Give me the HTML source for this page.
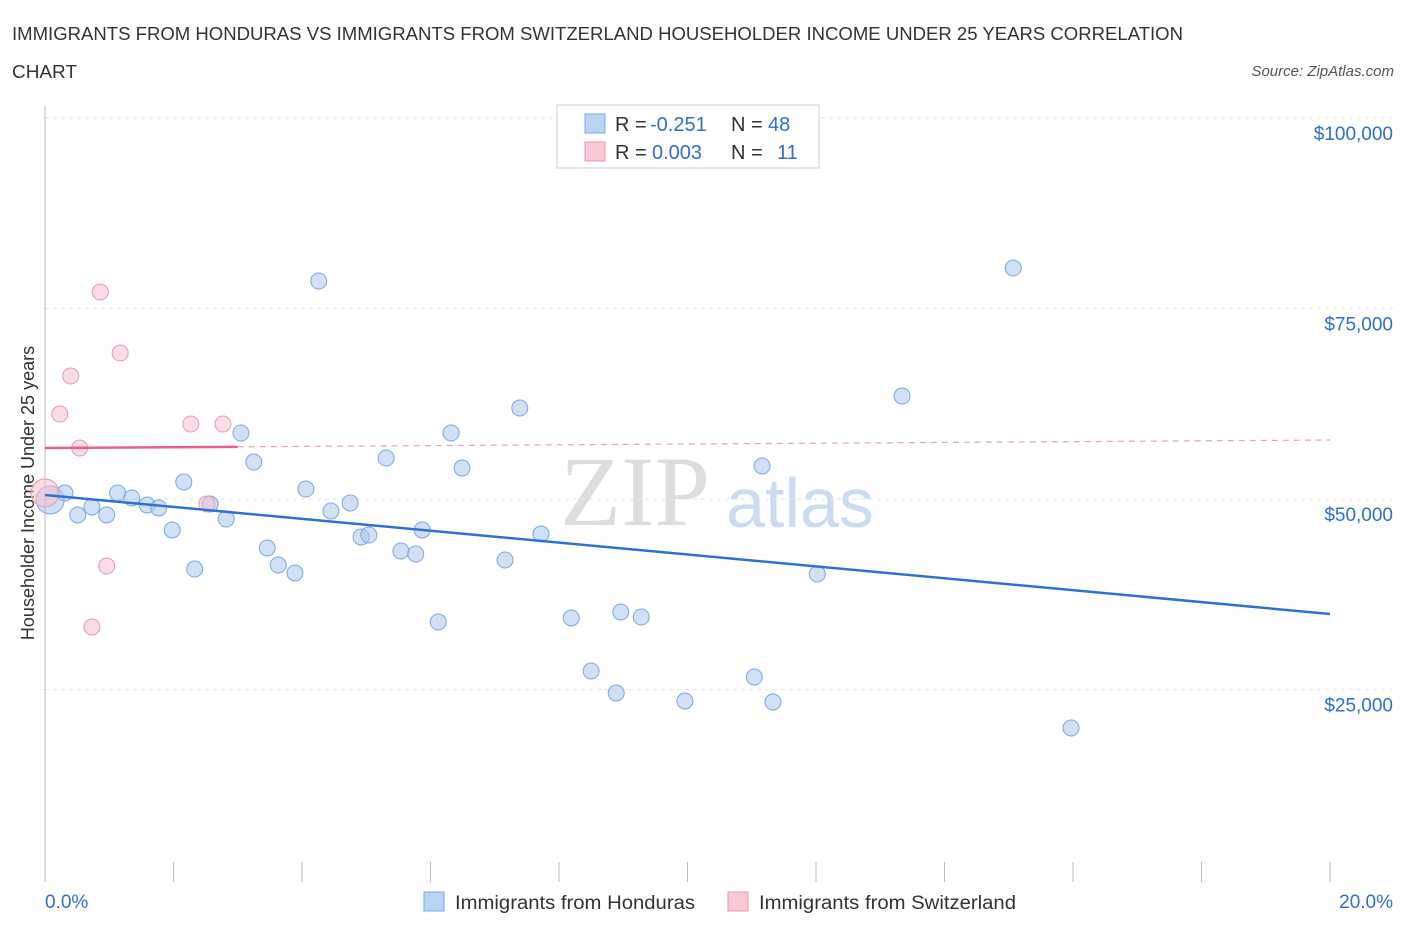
<!DOCTYPE html>
<html><head><meta charset="utf-8"><style>
body{margin:0;background:#fff;font-family:"Liberation Sans",sans-serif}
</style></head><body>
<svg id="c" width="1406" height="930" xmlns="http://www.w3.org/2000/svg">
<text x="12" y="40" font-size="18" fill="#333" textLength="1171" lengthAdjust="spacingAndGlyphs">IMMIGRANTS FROM HONDURAS VS IMMIGRANTS FROM SWITZERLAND HOUSEHOLDER INCOME UNDER 25 YEARS CORRELATION</text>
<text x="12" y="78" font-size="18" fill="#333" textLength="65" lengthAdjust="spacingAndGlyphs">CHART</text>
<text x="1394" y="76" font-size="15" fill="#555" font-style="italic" text-anchor="end">Source: ZipAtlas.com</text>
<text x="635" y="525" font-size="100" fill="#ddd" font-family="Liberation Serif" text-anchor="middle">ZIP</text>
<text x="800" y="527" font-size="70" fill="#c9dcf2" text-anchor="middle">atlas</text>
<text transform="translate(34,493) rotate(-90)" font-size="18" fill="#333" text-anchor="middle">Householder Income Under 25 years</text>
<g id="grid"></g><g id="marks"></g>
<g>
<rect x="557" y="105" width="262" height="63" fill="#fff" stroke="#ccc"/>
<rect x="585" y="114" width="20" height="19" fill="#b8d4f5" stroke="#7aa8e0"/>
<rect x="585" y="142" width="20" height="19" fill="#f9c9d6" stroke="#e898b0"/>
<text x="615" y="131" font-size="20" fill="#333">R =</text>
<text x="650" y="131" font-size="20" fill="#2f6fcf">-0.251</text>
<text x="731" y="131" font-size="20" fill="#333">N =</text>
<text x="768" y="131" font-size="20" fill="#2f6fcf">48</text>
<text x="615" y="159" font-size="20" fill="#333">R =</text>
<text x="652" y="159" font-size="20" fill="#2f6fcf">0.003</text>
<text x="731" y="159" font-size="20" fill="#333">N =</text>
<text x="777" y="159" font-size="20" fill="#2f6fcf">11</text>
</g>
<g>
<rect x="424" y="892" width="20" height="19" fill="#b8d4f5" stroke="#7aa8e0"/>
<text x="455" y="909" font-size="19" fill="#333" textLength="240" lengthAdjust="spacingAndGlyphs">Immigrants from Honduras</text>
<rect x="728" y="892" width="20" height="19" fill="#f9c9d6" stroke="#e898b0"/>
<text x="759" y="909" font-size="19" fill="#333" textLength="257" lengthAdjust="spacingAndGlyphs">Immigrants from Switzerland</text>
</g>
</svg>
<script>
const yTicks=[25000,50000,75000,100000];
const yTickLabels=["$25,000","$50,000","$75,000","$100,000"];
const xTickLabels=["0.0%","20.0%"];
const blueX=[0.08,0.31,0.51,0.73,0.96,1.13,1.35,1.59,1.77,1.98,2.16,2.33,2.57,2.82,3.05,3.25,3.46,3.63,3.89,4.06,4.26,4.45,4.75,4.92,5.04,5.31,5.54,5.77,5.87,6.12,6.32,6.49,7.16,7.39,7.72,8.19,8.50,8.89,8.96,9.28,9.96,11.04,11.16,11.33,12.02,13.34,15.07,15.97];
const blueY=[49869,50786,47900,48949,47900,50786,50130,49211,48818,45931,52230,40813,49342,47374,58660,54854,43568,41337,40288,51311,78607,48424,49474,45012,45274,55379,43175,42781,45931,33857,58660,54067,41994,61940,45406,34382,27427,24540,35170,34513,23490,26640,54330,23359,40156,63515,80313,19947];
const pinkX=[0,0.23,0.40,0.54,0.73,0.86,0.96,1.17,2.27,2.52,2.77];
const pinkY=[50786,61153,66140,56691,33201,77163,41206,69158,59840,49342,59840];
const blueTrend=[50524,34907];
const pinkTrend=[56691,57741];
const NS="http://www.w3.org/2000/svg";
const X=v=>45+v/20*1285, Y=v=>880-v/25000*190.5;
function mk(t,a,p){const e=document.createElementNS(NS,t);for(const k in a)e.setAttribute(k,a[k]);p.appendChild(e);return e;}
const g=document.getElementById('grid'),m=document.getElementById('marks');
yTicks.forEach((v,i)=>{
 const l=mk('line',{x1:45,x2:1394,y1:Y(v),y2:Y(v),stroke:'#e2e2e2','stroke-dasharray':'4,4'},g);
 
 
 const t=mk('text',{x:1393,y:Y(v)+22,'font-size':19,fill:'#2f6fcf','text-anchor':'end'},g);t.textContent=yTickLabels[i];
 
 
});
mk('line',{x1:45,x2:45,y1:105,y2:882,stroke:'#bbb'},g);
for(let i=0;i<=10;i++){const xx=X(i*2);const l=mk('line',{x1:xx,x2:xx,y1:862,y2:882,stroke:'#bbb'},g);
 
 }
[[0,'start',45],[20,'end',1393]].forEach((a,i)=>{const t=mk('text',{x:a[2],y:908,'font-size':19,fill:'#2f6fcf','text-anchor':a[1]},g);t.textContent=xTickLabels[i];
 
 });
blueX.forEach((x,i)=>{const c=mk('circle',{cx:X(x),cy:Y(blueY[i]),r:i==0?14:8,fill:'rgba(170,200,240,0.55)',stroke:'#7aa8e0','stroke-width':1},m);
 
 });
pinkX.forEach((x,i)=>{const c=mk('circle',{cx:X(x),cy:Y(pinkY[i]),r:i==0?14:8,fill:'rgba(248,190,205,0.55)',stroke:'#e898b0','stroke-width':1},m);
 
 });
const bl=mk('line',{x1:X(0),y1:Y(blueTrend[0]),x2:X(20),y2:Y(blueTrend[1]),stroke:'#2f72d6','stroke-width':2.5},m);


const py=x=>pinkTrend[0]+(pinkTrend[1]-pinkTrend[0])*x/20;
const p1=mk('line',{x1:X(0),y1:Y(py(0)),x2:X(3),y2:Y(py(3)),stroke:'#e8608a','stroke-width':2.5},m);


const p2=mk('line',{x1:X(3),y1:Y(py(3)),x2:X(20),y2:Y(py(20)),stroke:'#e8a0b5','stroke-width':1.2,'stroke-dasharray':'6,5'},m);


</script>
</body></html>
